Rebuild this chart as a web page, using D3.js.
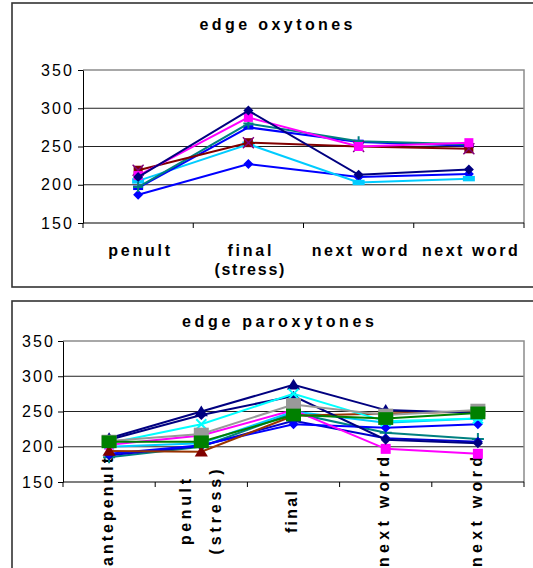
<!DOCTYPE html>
<html>
<head>
<meta charset="utf-8">
<script src="https://cdnjs.cloudflare.com/ajax/libs/d3/7.8.5/d3.min.js"></script>
<style>
  body { margin: 0; background: #fff; }
  text { font-family: "Liberation Sans", Arial, sans-serif; fill: #000; }
</style>
</head>
<body>
<script>
// ---- data: edge oxytones ----
var oxyLabels = [["penult"], ["final", "(stress)"], ["next word"], ["next word"]];
var oxyNavy = [210, 297, 213, 220];
var oxyMagenta = [212, 288, 250, 255];
var oxyTeal = [197, 280, 257, 253];
var oxyBlue = [196, 275, 256, 251];
var oxyDarkRed = [219, 255, 250, 247];
var oxyCyan = [205, 253, 203, 208];
var oxyBlueDiamond = [187, 227, 210, 214];

// ---- data: edge paroxytones ----
var parLabels = [["antepenult"], ["penult", "(stress)"], ["final"], ["next word"], ["next word"]];
var parNavyTri = [212, 250, 288, 252, 248];
var parNavyDiamond = [210, 245, 272, 210, 205];
var parMagenta = [203, 216, 252, 197, 190];
var parCyanX = [205, 232, 275, 236, 240];
var parGray = [208, 218, 260, 245, 252];
var parGreen = [207, 207, 245, 240, 248];
var parDarkRed = [194, 193, 244, 247, 250];
var parTeal = [185, 200, 248, 220, 211];
var parBlue = [190, 202, 232, 227, 232];
var parBlue2 = [188, 201, 237, 212, 207];
var parSky = [200, 205, 250, 234, 240];

var yTicks = [150, 200, 250, 300, 350];

var svg = d3.select("body").append("svg")
  .attr("width", 533)
  .attr("height", 568);

function markerPath(type, r) {
  if (type == "diamond") return "M0," + -r + "L" + r + ",0L0," + r + "L" + -r + ",0Z";
  if (type == "square") return "M" + -r + "," + -r + "H" + r + "V" + r + "H" + -r + "Z";
  if (type == "box") return "M" + -r + "," + -r * 0.85 + "H" + r + "V" + r * 0.85 + "H" + -r + "Z";
  if (type == "triangle") return "M0," + -r + "L" + r * 1.1 + "," + r * 0.8 + "L" + -r * 1.1 + "," + r * 0.8 + "Z";
  if (type == "dash") return "M" + -r + "," + -r * 0.45 + "H" + r + "V" + r * 0.45 + "H" + -r + "Z";
  if (type == "plus") return "M" + -r + ",0H" + r + "M0," + -r + "V" + r;
  if (type == "x") return "M" + -r + "," + -r + "L" + r + "," + r + "M" + -r + "," + r + "L" + r + "," + -r;
  return "";
}

function drawChart(opt) {
  var g = svg.append("g");

  // outer frame
  g.append("rect")
    .attr("x", opt.frame[0]).attr("y", opt.frame[1])
    .attr("width", opt.frame[2]).attr("height", opt.frame[3])
    .style("fill", "none").style("stroke", "#333").style("stroke-width", 1.6);

  var n = opt.labels.length;
  var x = d3.scaleBand().domain(d3.range(n)).range([opt.left, opt.right]);
  var y = d3.scaleLinear().domain([150, 350]).range([opt.bottom, opt.top]);

  // gridlines
  g.selectAll(".grid").data(yTicks.slice(1, 4)).enter().append("line")
    .attr("x1", opt.left).attr("x2", opt.right)
    .attr("y1", function(d) { return y(d); }).attr("y2", function(d) { return y(d); })
    .style("stroke", "#222").style("stroke-width", 1);

  // plot area border (top + right)
  g.append("path")
    .attr("d", "M" + opt.left + "," + y(350) + "H" + opt.right + "V" + y(150))
    .style("fill", "none").style("stroke", "#8c8c8c").style("stroke-width", 1.5);

  // y axis
  var yAxis = g.append("g")
    .attr("transform", "translate(" + opt.left + ",0)")
    .call(d3.axisLeft(y).tickValues(yTicks).tickSize(5).tickSizeOuter(0).tickFormat(d3.format("d")));
  yAxis.select(".domain").style("stroke", "#000");
  yAxis.selectAll(".tick line").style("stroke", "#000");
  yAxis.selectAll("text")
    .attr("x", -opt.yLabelGap)
    .style("font-size", "16px")
    .style("font-family", "'Liberation Sans', Arial, sans-serif")
    .attr("textLength", 31)
    .attr("lengthAdjust", "spacing");

  // x axis line with ticks at band edges
  var edges = d3.range(n).map(function(i) { return x(i); }).concat([opt.right]);
  g.append("line")
    .attr("x1", opt.left).attr("x2", opt.right)
    .attr("y1", y(150)).attr("y2", y(150))
    .style("stroke", "#000").style("stroke-width", 1.2);
  g.selectAll(".xtick").data(edges).enter().append("line")
    .attr("x1", function(d) { return d; }).attr("x2", function(d) { return d; })
    .attr("y1", y(150)).attr("y2", y(150) + 5)
    .style("stroke", "#000");

  // title
  g.append("text")
    .attr("x", opt.titleX).attr("y", opt.titleY)
    .attr("text-anchor", "middle")
    .style("font-size", "16px").style("font-weight", "bold")
    .attr("textLength", opt.titleWidth)
    .attr("lengthAdjust", "spacing")
    .text(opt.title);

  // category labels
  opt.labels.forEach(function(lines, i) {
    lines.forEach(function(s, j) {
      var lw = opt.labelWidths[s];
      if (opt.rotated) {
        var cx = x(i) + x.bandwidth() / 2 + (lines.length > 1 ? (j == 0 ? -16 : 14) : -2);
        g.append("text")
          .attr("transform", "translate(" + cx + "," + opt.labelY + ") rotate(-90)")
          .attr("text-anchor", "middle")
          .attr("dy", "0.35em")
          .style("font-size", "16px").style("font-weight", "bold")
          .attr("textLength", lw)
          .attr("lengthAdjust", "spacing")
          .text(s);
      } else {
        g.append("text")
          .attr("x", x(i) + x.bandwidth() / 2 + 1)
          .attr("y", opt.labelY + j * 19)
          .attr("text-anchor", "middle")
          .style("font-size", "16px").style("font-weight", "bold")
          .attr("textLength", lw)
          .attr("lengthAdjust", "spacing")
          .text(s);
      }
    });
  });

  // series lines and markers
  var line = d3.line()
    .x(function(d, i) { return x(i) + x.bandwidth() / 2; })
    .y(function(d) { return y(d); });

  opt.series.forEach(function(s) {
    g.append("path")
      .datum(s.values)
      .attr("d", line)
      .style("fill", "none")
      .style("stroke", s.color)
      .style("stroke-width", 2);

    var stroked = (s.marker == "plus" || s.marker == "x");
    g.selectAll(null).data(s.values).enter().append("path")
      .attr("transform", function(d, i) {
        return "translate(" + (x(i) + x.bandwidth() / 2) + "," + y(d) + ")";
      })
      .attr("d", markerPath(s.marker, s.r))
      .style("fill", stroked ? "none" : (s.markerColor || s.color))
      .style("stroke", stroked ? (s.markerColor || s.color) : "none")
      .style("stroke-width", 2);

    if (s.overlay) {
      g.selectAll(null).data(s.values).enter().append("path")
        .attr("transform", function(d, i) {
          return "translate(" + (x(i) + x.bandwidth() / 2) + "," + y(d) + ")";
        })
        .attr("d", markerPath("x", s.r + 1))
        .style("fill", "none")
        .style("stroke", s.overlay)
        .style("stroke-width", 1.5);
    }
  });
}

drawChart({
  frame: [12, 3, 540, 284],
  left: 83, right: 524, top: 70, bottom: 223,
  yLabelGap: 11,
  title: "edge oxytones", titleX: 276, titleY: 30, titleWidth: 153,
  labels: oxyLabels, labelY: 256, rotated: false,
  labelWidths: { "penult": 62, "final": 44, "(stress)": 70, "next word": 96 },
  series: [
    { values: oxyBlueDiamond, color: "#0000FF", marker: "diamond", r: 5 },
    { values: oxyCyan, color: "#00CCFF", marker: "dash", r: 6 },
    { values: oxyBlue, color: "#0000FF", marker: "dash", r: 5 },
    { values: oxyTeal, color: "#008080", marker: "plus", r: 5 },
    { values: oxyDarkRed, color: "#800000", marker: "square", r: 4.5, overlay: "#800080" },
    { values: oxyMagenta, color: "#FF00FF", marker: "square", r: 4.5 },
    { values: oxyNavy, color: "#000080", marker: "diamond", r: 5 }
  ]
});

drawChart({
  frame: [12, 301, 540, 290],
  left: 63, right: 524, top: 341, bottom: 482,
  yLabelGap: 10,
  title: "edge paroxytones", titleX: 278, titleY: 327, titleWidth: 192,
  labels: parLabels, labelY: 512, rotated: true,
  labelWidths: { "antepenult": 108, "penult": 66, "(stress)": 85, "final": 42, "next word": 110 },
  series: [
    { values: parTeal, color: "#008080", marker: "plus", r: 6 },
    { values: parBlue2, color: "#0000CC", marker: "diamond", r: 5 },
    { values: parBlue, color: "#0000FF", marker: "diamond", r: 5 },
    { values: parSky, color: "#00CCFF", marker: "dash", r: 5 },
    { values: parMagenta, color: "#FF00FF", marker: "square", r: 5 },
    { values: parDarkRed, color: "#993300", marker: "triangle", r: 6, markerColor: "#800000" },
    { values: parNavyDiamond, color: "#000080", marker: "diamond", r: 5 },
    { values: parNavyTri, color: "#000080", marker: "triangle", r: 6 },
    { values: parCyanX, color: "#00FFFF", marker: "x", r: 5 },
    { values: parGray, color: "#999999", marker: "box", r: 7.5 },
    { values: parGreen, color: "#008000", marker: "box", r: 7.5 }
  ]
});
</script>
</body>
</html>
